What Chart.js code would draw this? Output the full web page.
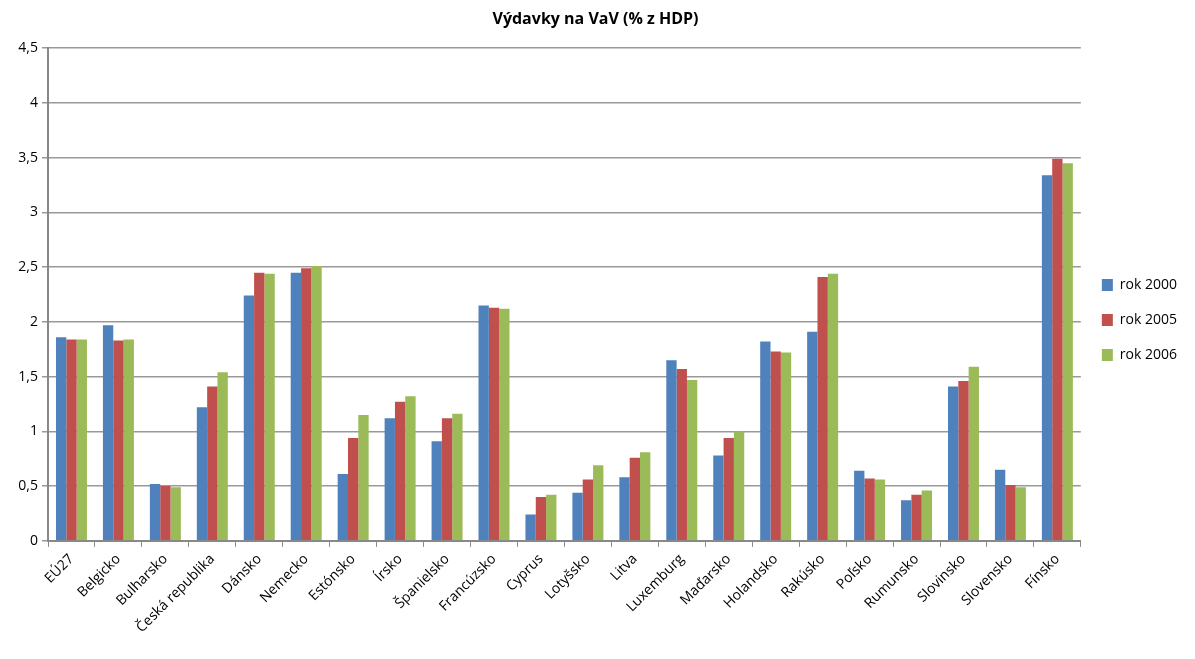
<!DOCTYPE html>
<html><head><meta charset="utf-8">
<script src="https://cdn.jsdelivr.net/npm/chart.js@4"></script>
<style>html,body{margin:0;padding:0;background:#fff}#wrap{width:1195px;height:659px}</style>
</head><body><div id="wrap"><canvas id="c" width="1195" height="659"></canvas></div>
<script>
const categories = ["EÚ27","Belgicko","Bulharsko","Česká republika","Dánsko","Nemecko","Estónsko","Írsko","Španielsko","Francúzsko","Cyprus","Lotyšsko","Litva","Luxemburg","Maďarsko","Holandsko","Rakúsko","Poľsko","Rumunsko","Slovinsko","Slovensko","Fínsko"];
const rok2000 = [1.86,1.97,0.52,1.22,2.24,2.45,0.61,1.12,0.91,2.15,0.24,0.44,0.58,1.65,0.78,1.82,1.91,0.64,0.37,1.41,0.65,3.34];
const rok2005 = [1.84,1.83,0.50,1.41,2.45,2.49,0.94,1.27,1.12,2.13,0.40,0.56,0.76,1.57,0.94,1.73,2.41,0.57,0.42,1.46,0.51,3.49];
const rok2006 = [1.84,1.84,0.49,1.54,2.44,2.51,1.15,1.32,1.16,2.12,0.42,0.69,0.81,1.47,1.00,1.72,2.44,0.56,0.46,1.59,0.49,3.45];
const seriesNames = ["rok 2000","rok 2005","rok 2006"];
const yTicks = [0,0.5,1,1.5,2,2.5,3,3.5,4,4.5];
const title = "Výdavky na VaV (% z HDP)";

const font = "'Open Sans', 'Noto Sans', sans-serif";
new Chart(document.getElementById('c'), {
  type: 'bar',
  data: {
    labels: categories,
    datasets: [
      {label: seriesNames[0], data: rok2000, backgroundColor: '#4F81BD'},
      {label: seriesNames[1], data: rok2005, backgroundColor: '#C0504D'},
      {label: seriesNames[2], data: rok2006, backgroundColor: '#9BBB59'}
    ]
  },
  options: {
    responsive: false,
    animation: false,
    layout: {padding: {left: 4, right: 8, top: 0, bottom: 19}},
    datasets: {bar: {categoryPercentage: 0.66, barPercentage: 1.0}},
    plugins: {
      title: {display: true, text: title, color: '#000', font: {family: font, size: 16, weight: 'bold'}, padding: {top: 10, bottom: 19}},
      legend: {position: 'right', align: 'center',
        labels: {boxWidth: 11, boxHeight: 12, color: '#000', font: {family: font, size: 14}, padding: 21}},
      tooltip: {enabled: false}
    },
    scales: {
      x: {
        grid: {display: true, offset: true, drawOnChartArea: false, drawTicks: true, tickLength: 6, color: '#888', lineWidth: 1},
        border: {display: true, color: '#888', width: 2},
        ticks: {maxRotation: 45, minRotation: 45, autoSkip: false, color: '#000', font: {family: font, size: 14}, padding: 4}
      },
      y: {
        min: 0, max: 4.5,
        afterBuildTicks: (axis) => { axis.ticks = yTicks.map(v => ({value: v})); },
        afterFit: (axis) => { axis.width = 44; },
        grid: {color: '#999', lineWidth: 1.5, tickLength: 6, drawTicks: true},
        border: {display: true, color: '#888', width: 2},
        ticks: {color: '#000', font: {family: font, size: 14}, padding: 4,
          callback: (v) => String(v).replace('.', ',')}
      }
    }
  }
});
</script></body></html>
